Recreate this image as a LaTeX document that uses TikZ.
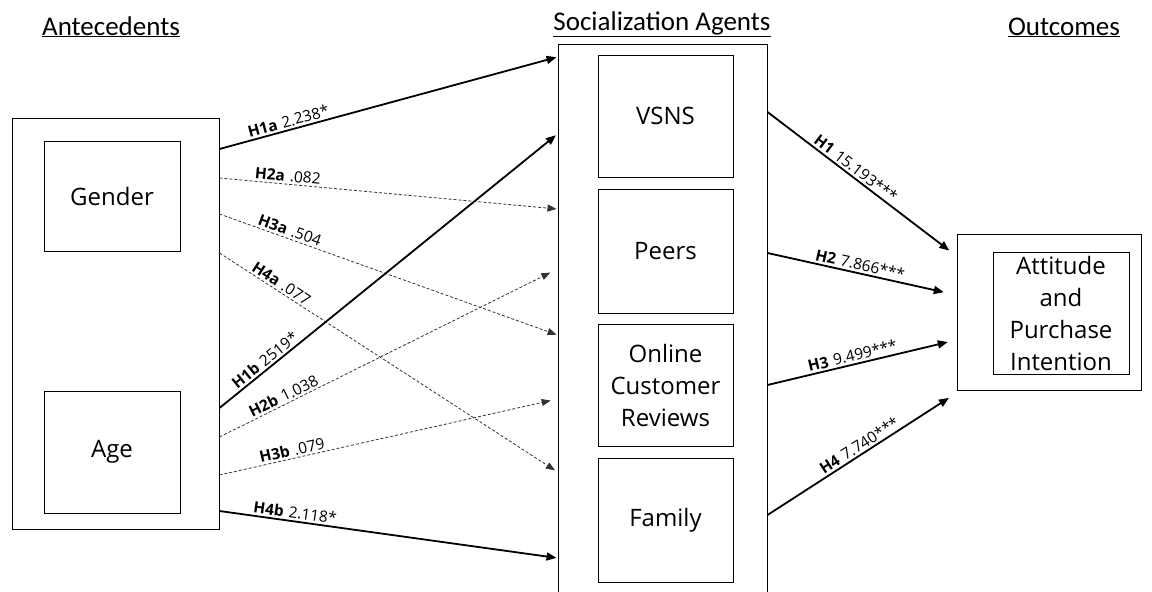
\documentclass[tikz,border=0pt]{standalone}
\usepackage{fontspec}
\setmainfont{Open Sans}
\newfontfamily\headfont{Carlito}
\usetikzlibrary{arrows.meta}

\tikzset{
  box/.style={draw, line width=1pt, inner sep=0pt, align=center,
    font=\fontsize{24}{32}\selectfont},
  head/.style={font=\headfont\fontsize{27}{32}\selectfont, anchor=base},
  strong/.style={line width=1.8pt, -{Triangle[length=10pt,width=8pt]}},
  weak/.style={line width=0.8pt, draw=black!80, dash pattern=on 3pt off 2pt,
    -{Triangle[length=9pt,width=7pt]}},
  lab/.style={font=\fontsize{15.5}{18}\selectfont, sloped, above=1pt, inner sep=1pt}
}
\newcommand{\hyp}[2]{\textbf{#1}\hspace{5pt}#2}

\begin{document}
\begin{tikzpicture}[x=1pt,y=-1pt]
\useasboundingbox (0,0) rectangle (1152,592);

% headings
\node[head] (h1) at (111,35) {\underline{Antecedents}};
\node[head] (h2) at (662,30) {\underline{Socialization Agents}};
\node[head] (h3) at (1064,35) {\underline{Outcomes}};

% antecedents
\node[box, minimum width=207pt, minimum height=411pt] (ante) at (115.5,323.5) {};
\node[box, minimum width=136pt, minimum height=110pt] (gender) at (112,196) {Gender};
\node[box, minimum width=136pt, minimum height=122pt] (age) at (112,452) {Age};

% socialization agents
\node[box, minimum width=209pt, minimum height=556pt] (agents) at (662.5,322) {};
\node[box, minimum width=135pt, minimum height=122pt] (vsns) at (665.5,116) {VSNS};
\node[box, minimum width=135pt, minimum height=124pt] (peers) at (665.5,251) {Peers};
\node[box, minimum width=135pt, minimum height=122pt] (ocr) at (665.5,385) {Online\\Customer\\Reviews};
\node[box, minimum width=135pt, minimum height=124pt] (family) at (665.5,520) {Family};

% outcomes
\node[box, minimum width=184pt, minimum height=156pt] (outc) at (1049,312) {};
\node[box, minimum width=136pt, minimum height=122pt] (att) at (1061,313) {Attitude\\and\\Purchase\\Intention};

% antecedents -> agents
\draw[strong, shorten >=1pt] (ante.east |- 0,149) -- (agents.west |- 0,57)
  node[lab, pos=0.21] {\hyp{H1a}{2.238*}};
\draw[weak, shorten >=1pt] (ante.east |- 0,178) -- (agents.west |- 0,209)
  node[lab, pos=0.2] {\hyp{H2a}{.082}};
\draw[weak, shorten >=1pt] (ante.east |- 0,214) -- (agents.west |- 0,335)
  node[lab, pos=0.2] {\hyp{H3a}{.504}};
\draw[weak, shorten >=3pt] (ante.east |- 0,253) -- (agents.west |- 0,472)
  node[lab, pos=0.17] {\hyp{H4a}{.077}};
\draw[strong, shorten >=2pt] (ante.east |- 0,408) -- (agents.west |- 0,134)
  node[lab, pos=0.15] {\hyp{H1b}{2519*}};
\draw[weak, shorten >=8pt] (ante.east |- 0,437) -- (agents.west |- 0,269)
  node[lab, pos=0.2] {\hyp{H2b}{1.038}};
\draw[weak, shorten >=7pt] (ante.east |- 0,475) -- (agents.west |- 0,399)
  node[lab, pos=0.22] {\hyp{H3b}{.079}};
\draw[strong, shorten >=1pt] (ante.east |- 0,511) -- (agents.west |- 0,558)
  node[lab, pos=0.22] {\hyp{H4b}{2.118*}};

% agents -> outcomes
\draw[strong, shorten >=9pt] (agents.east |- 0,112) -- (outc.west |- 0,256)
  node[lab, pos=0.44] {\hyp{H1}{15.193***}};
\draw[strong, shorten >=13pt] (agents.east |- 0,253) -- (outc.west |- 0,295)
  node[lab, pos=0.48] {\hyp{H2}{7.866***}};
\draw[strong, shorten >=9pt] (agents.east |- 0,385) -- (outc.west |- 0,340)
  node[lab, pos=0.46] {\hyp{H3}{9.499***}};
\draw[strong, shorten >=9pt] (agents.east |- 0,515) -- (outc.west |- 0,393)
  node[lab, pos=0.51] {\hyp{H4}{7.740***}};
\end{tikzpicture}
\end{document}
